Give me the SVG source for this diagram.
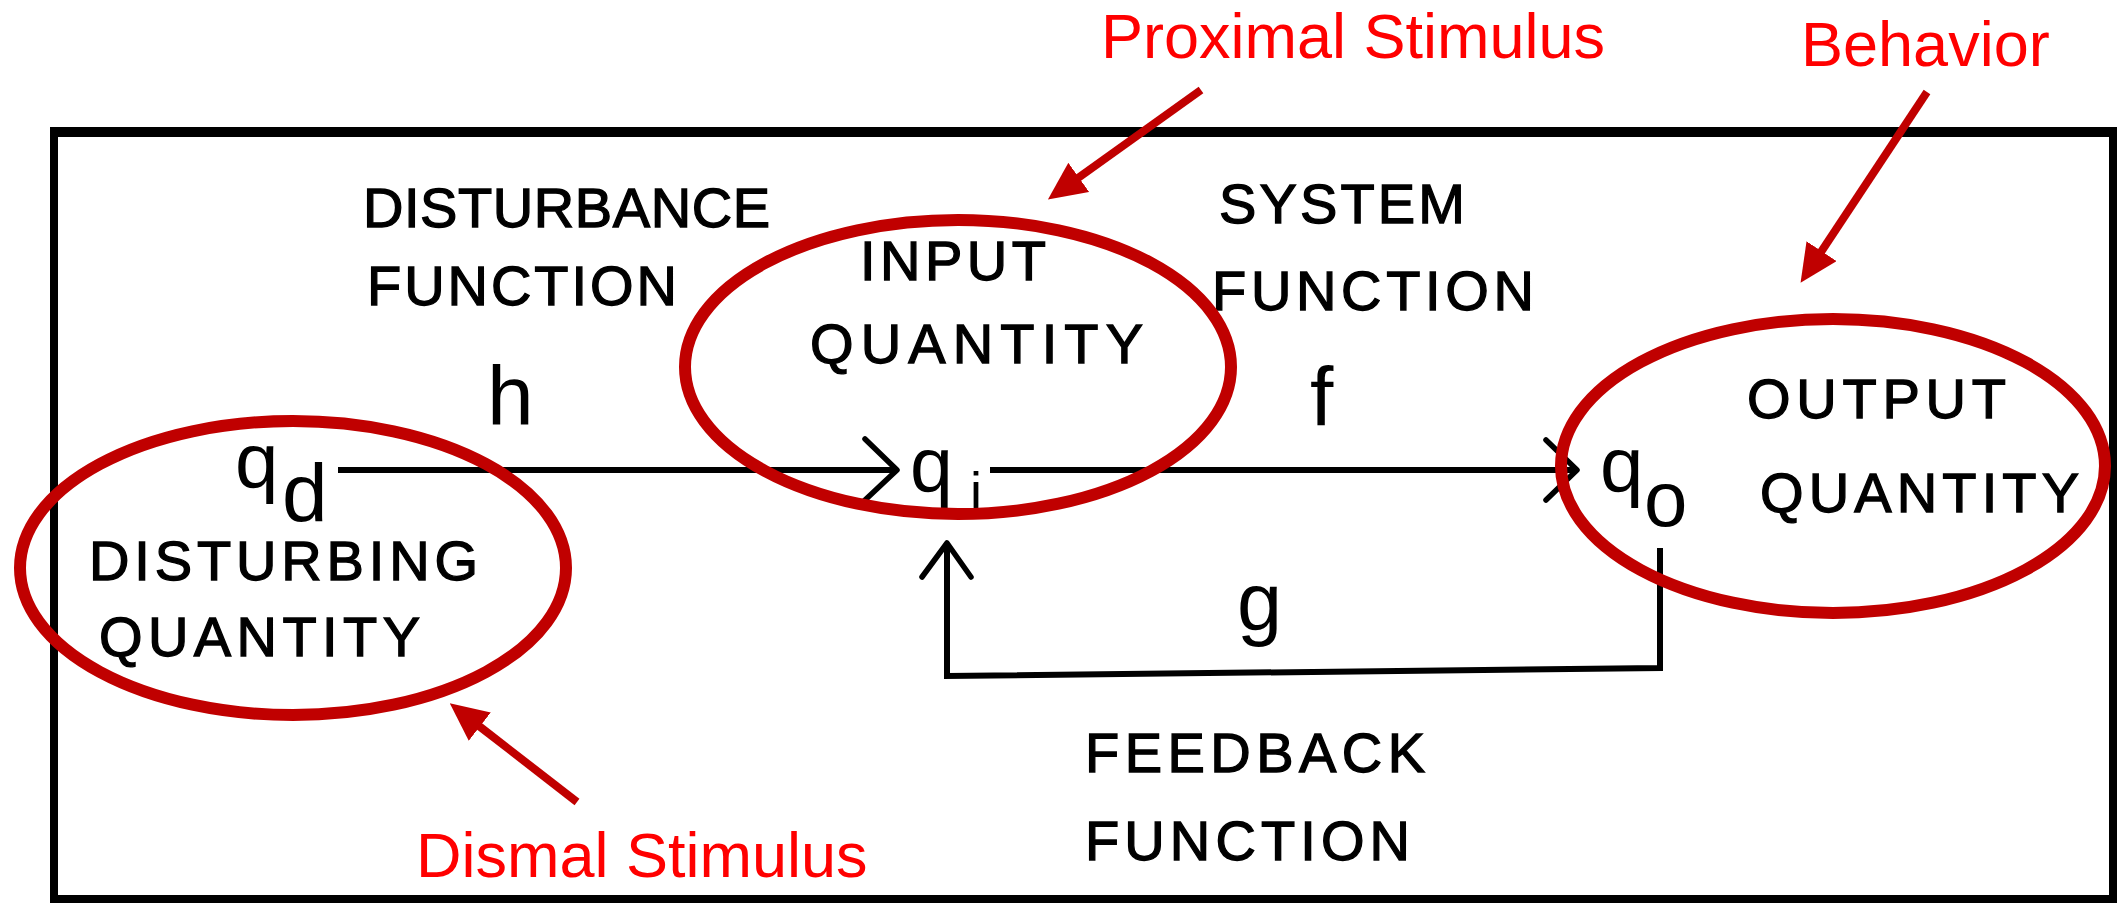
<svg xmlns="http://www.w3.org/2000/svg" width="2121" height="905" viewBox="0 0 2121 905">
  <style>
    .lbl { font-family: "Liberation Sans", Arial, sans-serif; font-size: 56px; fill: #000; stroke: #000; stroke-width: 1.3px; }
    .var { font-family: "Liberation Sans", Arial, sans-serif; fill: #000; }
    .red { font-family: "Liberation Sans", Arial, sans-serif; font-size: 63px; fill: #FF0000; }
    .ell { fill: none; stroke: #C00000; stroke-width: 12; }
    .ln { fill: none; stroke: #000; stroke-width: 6; stroke-linejoin: miter; }
    .chev { fill: none; stroke: #000; stroke-width: 5.5; stroke-linejoin: round; stroke-linecap: round; }
    .rarr { fill: none; stroke: #C00000; stroke-width: 8; marker-end: url(#rhead); }
  </style>
  <defs>
    <marker id="rhead" markerUnits="userSpaceOnUse" viewBox="0 0 38 36" markerWidth="38" markerHeight="36" refX="1" refY="18" orient="auto">
      <path d="M0,0 L38,18 L0,36 z" fill="#C00000"/>
    </marker>
  </defs>
  <rect x="0" y="0" width="2121" height="905" fill="#fff"/>

  <g id="frame">
    <rect x="54" y="132" width="2059" height="767" fill="none" stroke="#000" stroke-width="8"/>
    <line x1="50" y1="132" x2="2117" y2="132" stroke="#000" stroke-width="10"/>
  </g>

  <g id="connectors">
    <line class="ln" x1="338" y1="470" x2="896" y2="470"/>
    <polyline class="chev" points="865,439 897,470 864,501"/>
    <line class="ln" x1="990" y1="470" x2="1576" y2="470"/>
    <polyline class="chev" points="1546,440 1577,470 1546,500"/>
    <polyline class="ln" points="1660,548 1660,668 947,676 947,545"/>
    <polyline class="chev" points="922,577 947,543 971,577"/>
  </g>

  <g id="disturbance-function">
    <text class="lbl" x="363" y="227" textLength="407" lengthAdjust="spacing">DISTURBANCE</text>
    <text class="lbl" x="367" y="305" textLength="310" lengthAdjust="spacing">FUNCTION</text>
    <text class="var" x="487" y="425" font-size="84">h</text>
  </g>

  <g id="system-function">
    <text class="lbl" x="1219" y="223" textLength="246" lengthAdjust="spacing">SYSTEM</text>
    <text class="lbl" x="1212" y="310" textLength="322" lengthAdjust="spacing">FUNCTION</text>
    <text class="var" x="1310" y="426" font-size="84">f</text>
  </g>

  <g id="feedback-function">
    <text class="var" x="1237" y="630" font-size="81">g</text>
    <text class="lbl" x="1085" y="772" font-size="58" textLength="340" lengthAdjust="spacing">FEEDBACK</text>
    <text class="lbl" x="1085" y="860" font-size="58" textLength="325" lengthAdjust="spacing">FUNCTION</text>
  </g>

  <g id="disturbing-quantity">
    <text class="var" x="235" y="488" font-size="78">q</text>
    <text class="var" x="282" y="521" font-size="82">d</text>
    <text class="lbl" x="89" y="580" textLength="389" lengthAdjust="spacing">DISTURBING</text>
    <text class="lbl" x="99" y="656" textLength="321" lengthAdjust="spacing">QUANTITY</text>
  </g>

  <g id="input-quantity">
    <text class="lbl" x="860" y="280" textLength="186" lengthAdjust="spacing">INPUT</text>
    <text class="lbl" x="810" y="363" textLength="333" lengthAdjust="spacing">QUANTITY</text>
    <text class="var" x="910" y="492" font-size="77">q</text>
    <text class="var" x="970" y="510" font-size="54">i</text>
  </g>

  <g id="output-quantity">
    <text class="lbl" x="1747" y="418" textLength="259" lengthAdjust="spacing">OUTPUT</text>
    <text class="lbl" x="1760" y="512" textLength="319" lengthAdjust="spacing">QUANTITY</text>
    <text class="var" x="1600" y="492" font-size="78">q</text>
    <text class="var" x="1644" y="526" font-size="78">o</text>
  </g>

  <g id="annotation-dismal">
    <ellipse class="ell" cx="293" cy="568" rx="273" ry="147"/>
    <line class="rarr" x1="577" y1="802" x2="479" y2="726"/>
    <text class="red" x="416" y="877">Dismal Stimulus</text>
  </g>

  <g id="annotation-proximal">
    <ellipse class="ell" cx="958" cy="367" rx="273" ry="147"/>
    <line class="rarr" x1="1201" y1="90" x2="1078" y2="178"/>
    <text class="red" x="1101" y="58">Proximal Stimulus</text>
  </g>

  <g id="annotation-behavior">
    <ellipse class="ell" cx="1833" cy="466" rx="272" ry="147"/>
    <line class="rarr" x1="1927" y1="92" x2="1821" y2="252"/>
    <text class="red" x="1801" y="66" font-size="62">Behavior</text>
  </g>
</svg>
